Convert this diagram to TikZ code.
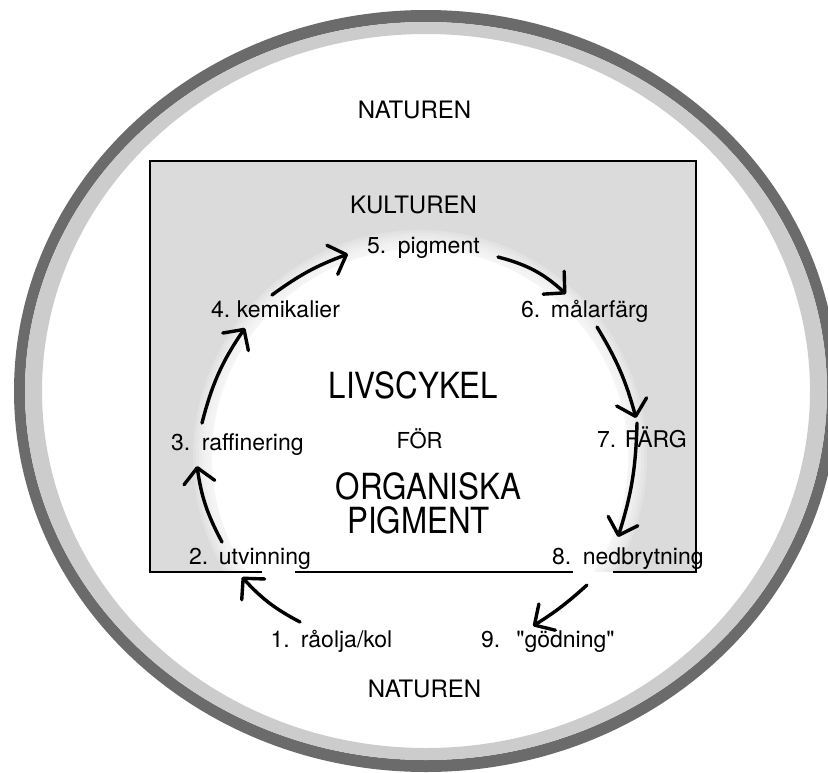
\documentclass[tikz,border=0pt]{standalone}
\usepackage{fontspec}
\setmainfont{TeX Gyre Heros}[Ligatures=TeXOff]
\newfontfamily\condfont{TeX Gyre Heros}[FakeStretch=0.87,Ligatures=TeXOff]
\usetikzlibrary{arrows.meta}
\definecolor{ringdark}{gray}{0.42}
\definecolor{ringlight}{gray}{0.80}
\definecolor{boxgray}{gray}{0.86}
\tikzset{
  lab/.style={anchor=base west, inner sep=0pt, font=\fontsize{23}{27}\selectfont},
  bigtitle/.style={anchor=base, inner sep=0pt, font=\condfont\fontsize{36}{36}\selectfont},
  region/.style={anchor=base, inner sep=0pt, font=\fontsize{24}{28}\selectfont},
  cyc/.style={line width=3.4pt, line cap=round, -{Straight Barb[length=15pt,width=31pt,round]}},
  boxline/.style={line width=2pt},
}
\begin{document}
\begin{tikzpicture}[x=1pt,y=1pt]
\useasboundingbox (0,0) rectangle (828,-772);
\clip (0,0) rectangle (828,-772);
% ring
\fill[ringdark,even odd rule] (426,-391) ellipse [x radius=412pt, y radius=381pt]
  (426,-391) ellipse [x radius=401pt, y radius=369pt];
\fill[ringlight,even odd rule] (426,-391) ellipse [x radius=401pt, y radius=369pt]
  (426,-391) ellipse [x radius=384pt, y radius=357pt];
% box
\fill[boxgray] (150,-161) rectangle (696,-572);
\begin{scope}
\clip (150,-161) rectangle (696,-572);
\foreach \r in {227,224,...,209} \fill[white,opacity=0.2] (420,-457) circle (\r pt);
\fill[white] (420,-457) circle (208pt);
\end{scope}
\draw[boxline] (262,-572) -- (150,-572) -- (150,-161) -- (696,-161) -- (696,-572) -- (613,-572);
\draw[boxline] (295,-572) -- (573,-572);
% region texts
\node[region] (natTop) at (414.5,-118) {NATUREN};
\node[region] (kult) at (413.5,-213) {KULTUREN};
\node[region] (natBot) at (424.5,-697) {NATUREN};
% title
\node[bigtitle] (t1) at (413.5,-398) {LIVSCYKEL};
\node[anchor=base, inner sep=0pt, font=\fontsize{22}{26}\selectfont] (t2) at (419.5,-448) {FÖR};
\node[anchor=north, inner sep=0pt, align=center, font=\condfont\fontsize{36}{34}\selectfont]
  (t3) at (418.5,-472.5) {\hspace*{20pt}ORGANISKA\\PIGMENT};
% labels
\node[lab] (n1) at (270.5,-647) {1.\hspace{11pt}råolja/kol};
\node[lab] (n2) at (189,-564) {2.\hspace{10.5pt}utvinning};
\node[lab] (n3) at (171,-450) {3.\hspace{11.5pt}raffinering};
\node[lab] (n4) at (211,-317) {4.\hspace{6.5pt}kemikalier};
\node[lab] (n5) at (367,-253) {5.\hspace{11.5pt}pigment};
\node[lab] (n6) at (521,-317) {6.\hspace{10.5pt}målarfärg};
\node[lab] (n7) at (597,-447) {7. FÄRG};
\node[lab] (n8) at (552,-564) {8.\hspace{11.5pt}nedbrytning};
\node[lab] (n9) at (481,-647) {9.\hspace{16pt}"gödning"};
% arrow ends
\coordinate (s1) at (300,-622); \coordinate (e1) at (242,-577);
\coordinate (s2) at (222,-542); \coordinate (e2) at (197,-466);
\coordinate (s3) at (202,-423); \coordinate (e3) at (245,-328);
\coordinate (s4) at (272,-295); \coordinate (e4) at (348,-254);
\coordinate (s5) at (498,-257); \coordinate (e5) at (566,-294);
\coordinate (s6) at (597,-327); \coordinate (e6) at (636,-418);
\coordinate (s7) at (637,-423); \coordinate (e7) at (618,-537);
\coordinate (s8) at (587,-585); \coordinate (e8) at (533,-626);
\draw[cyc] (s1) to[bend left=10] (e1);
\draw[cyc] (s2) to[bend left=10] (e2);
\draw[cyc] (s3) to[bend left=10] (e3);
\draw[cyc] (s4) to[bend left=8] (e4);
\draw[cyc] (s5) to[bend left=14] (e5);
\draw[cyc] (s6) to[bend left=8] (e6);
\draw[cyc] (s7) to[bend left=8] (e7);
\draw[cyc] (s8) to[bend left=5] (e8);
\end{tikzpicture}
\end{document}
